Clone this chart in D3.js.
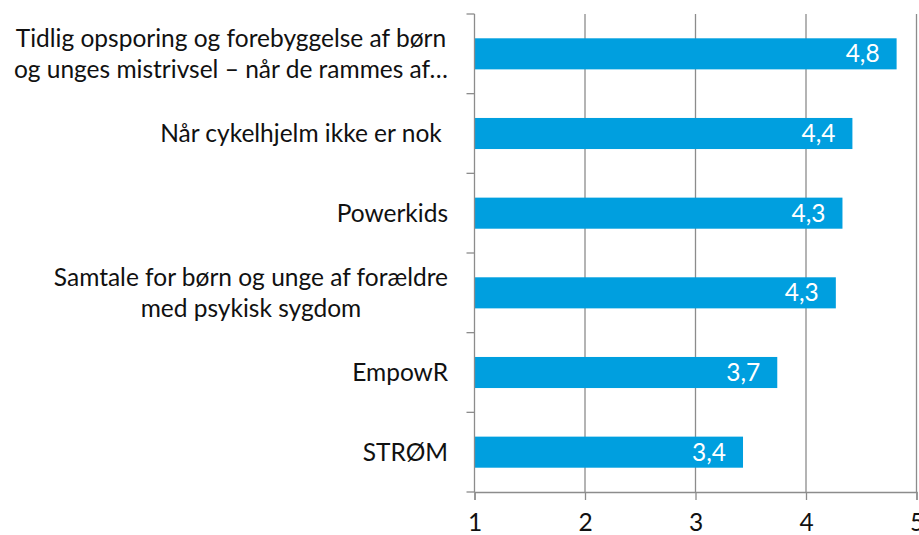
<!DOCTYPE html>
<html>
<head>
<meta charset="utf-8">
<script src="https://cdn.jsdelivr.net/npm/d3@7"></script>
<style>
  body { margin: 0; background: #fff; }
  svg text { font-family: Lato, "Open Sans", sans-serif; }
</style>
</head>
<body>
<svg id="chart" width="919" height="535"></svg>
<script>
// categories (each entry is the wrapped lines of the label)
var categories = [
  ["Tidlig opsporing og forebyggelse af børn", "og unges mistrivsel \u2013 når de rammes af\u2026"],
  ["Når cykelhjelm ikke er nok "],
  ["Powerkids"],
  ["Samtale for børn og unge af forældre", "med psykisk sygdom"],
  ["EmpowR"],
  ["STRØM"]
];
var scores = [4.82, 4.42, 4.33, 4.27, 3.74, 3.43];
var xTicks = [1, 2, 3, 4, 5];

var svg = d3.select("#chart");
var margin = {top: 14, left: 474.5, right: 2.5, bottom: 43};
var width = 919 - margin.left - margin.right,
    height = 535 - margin.top - margin.bottom;
var fontSize = "24.5px";

var g = svg.append("g")
    .attr("transform", "translate(" + margin.left + "," + margin.top + ")");

var x = d3.scaleLinear().domain([1, 5]).range([0, 442]);
var y = d3.scaleBand().domain(d3.range(categories.length)).range([0, height]).paddingInner(0.61).paddingOuter(0.305);

var comma = d3.formatLocale({decimal: ",", thousands: ".", grouping: [3], currency: ["", " kr"]}).format(".1f");

// vertical gridlines
g.selectAll(".grid")
  .data(xTicks.slice(1))
  .enter().append("line")
    .attr("x1", function(d) { return x(d); })
    .attr("x2", function(d) { return x(d); })
    .attr("y1", 0)
    .attr("y2", height)
    .attr("stroke", "#8c8c8c")
    .attr("stroke-width", 1.3);

// bars
g.selectAll(".bar")
  .data(scores)
  .enter().append("rect")
    .attr("x", x(1))
    .attr("y", function(d, i) { return y(i); })
    .attr("width", function(d) { return x(d) - x(1); })
    .attr("height", y.bandwidth())
    .attr("fill", "#009fdf");

// value labels
g.selectAll(".val")
  .data(scores)
  .enter().append("text")
    .attr("x", function(d) { return x(d) - 17; })
    .attr("y", function(d, i) { return y(i) + y.bandwidth() / 2 + 8.5; })
    .attr("text-anchor", "end")
    .attr("fill", "#fff")
    .style("font-size", fontSize)
    .text(function(d) { return comma(d); });

// x axis
var xAxis = g.append("g")
    .attr("transform", "translate(0," + height + ")")
    .call(d3.axisBottom(x).tickValues(xTicks).tickSize(8).tickPadding(14).tickFormat(d3.format("d")));
xAxis.select(".domain").attr("stroke", "#8c8c8c").attr("stroke-width", 1.3);
xAxis.selectAll(".tick line").attr("stroke", "#8c8c8c").attr("stroke-width", 1.3);
xAxis.selectAll("text").style("font-size", fontSize).attr("fill", "#111").attr("dy", "0.71em");

// category axis: line and ticks between categories
var yEdges = d3.range(categories.length + 1).map(function(i) { return i * height / categories.length; });
g.append("line")
    .attr("x1", 0).attr("x2", 0).attr("y1", 0).attr("y2", height)
    .attr("stroke", "#8c8c8c").attr("stroke-width", 1.3);
g.selectAll(".ctick")
  .data(yEdges)
  .enter().append("line")
    .attr("x1", -8).attr("x2", 0)
    .attr("y1", function(d) { return d; })
    .attr("y2", function(d) { return d; })
    .attr("stroke", "#8c8c8c").attr("stroke-width", 1.3);

// category labels: block right aligned, lines centred in the block
var labelRight = -26.5, lineH = 31;
categories.forEach(function(lines, i) {
  var t = g.append("text")
      .attr("fill", "#111")
      .attr("text-anchor", "middle")
      .style("font-size", fontSize)
      .style("white-space", "pre");
  var cy = y(i) + y.bandwidth() / 2;
  var y0 = cy - (lines.length - 1) * lineH / 2 + 8.5;
  var spans = lines.map(function(s, k) {
    return t.append("tspan").attr("y", y0 + k * lineH).text(s);
  });
  var w = d3.max(spans, function(s) { return s.node().getComputedTextLength(); });
  spans.forEach(function(s) { s.attr("x", labelRight - w / 2); });
});
</script>
</body>
</html>
